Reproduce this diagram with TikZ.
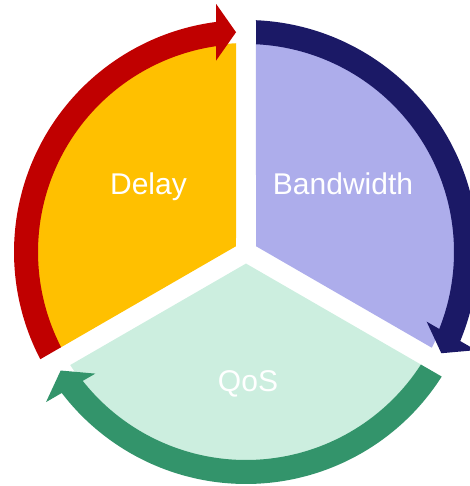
\documentclass[tikz,border=0pt]{standalone}
\usepackage{fontspec}
\setmainfont{Liberation Sans}
\usepackage{tikz}

\definecolor{delayfill}{HTML}{FFC000}
\definecolor{delayarrow}{HTML}{C00000}
\definecolor{bwfill}{HTML}{ADADEB}
\definecolor{bwarrow}{HTML}{1B1966}
\definecolor{qosfill}{HTML}{CCEEDF}
\definecolor{qosarrow}{HTML}{33946B}

\begin{document}
\begin{tikzpicture}[x=1pt, y=1pt, lbl/.style={text=white, inner sep=0pt, anchor=base, font=\fontsize{30}{36}\selectfont}]
        \useasboundingbox (-246,-234) rectangle (223,252);
        \fill[delayfill] (150:11.55) -- (92.74:209) arc[start angle=92.74, end angle=207.26, radius=209] -- cycle;
        \fill[bwfill] (30:11.55) -- (-27.26:209) arc[start angle=-27.26, end angle=87.26, radius=209] -- cycle;
        \fill[qosfill] (270:11.55) -- (212.74:209) arc[start angle=212.74, end angle=327.26, radius=209] -- cycle;
        \fill[delayarrow] (207.53:232) arc[start angle=207.53, end angle=96.5, radius=232] -- (96.5:208) arc[start angle=96.5, end angle=207.24, radius=208] -- cycle;
        \fill[delayarrow] (92.6:220) -- +(125.1:34.8) -- +(234.9:34.8) -- cycle;
        \fill[bwarrow] (87.53:232) arc[start angle=87.53, end angle=-23.5, radius=232] -- (-23.5:208) arc[start angle=-23.5, end angle=87.24, radius=208] -- cycle;
        \fill[bwarrow] (-27.4:220) -- +(5.1:34.8) -- +(114.9:34.8) -- cycle;
        \fill[qosarrow] (327.53:232) arc[start angle=327.53, end angle=216.5, radius=232] -- (216.5:208) arc[start angle=216.5, end angle=327.24, radius=208] -- cycle;
        \fill[qosarrow] (212.6:220) -- +(245.1:34.8) -- +(354.9:34.8) -- cycle;
        \node[lbl] (delay) at (-97.5,57) {Delay};
        \node[lbl] (bandwidth) at (97,57) {Bandwidth};
        \node[lbl] (qos) at (2,-139) {QoS};
    \end{tikzpicture}
\end{document}
